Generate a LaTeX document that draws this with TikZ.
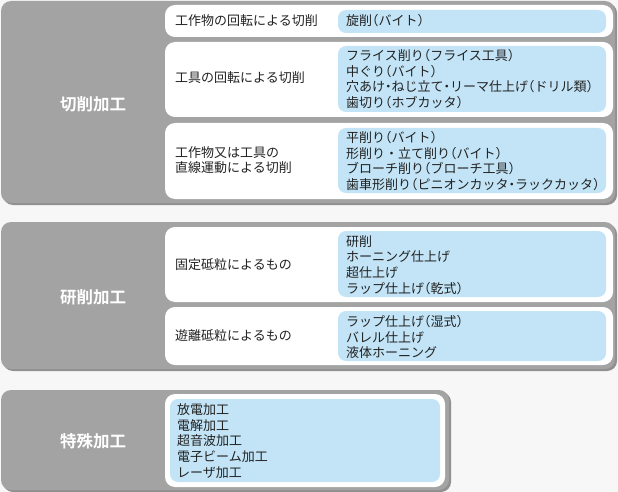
\documentclass[tikz,border=0pt]{standalone}
\usepackage{fontspec}
\setmainfont{Noto Sans CJK JP}[BoldFont={Noto Sans CJK JP Bold}]
\newfontfamily\halfpunct{Noto Sans CJK JP}[RawFeature=+halt]
\newcommand\kakkoL{{\halfpunct （}}
\newcommand\kakkoR{{\halfpunct ）}}
\newcommand\nakaten{{\halfpunct ・}}
\definecolor{bg}{HTML}{F7F7F7}
\definecolor{grp}{HTML}{A3A3A3}
\definecolor{grpdark}{HTML}{909090}
\definecolor{lb}{HTML}{C2E4F6}
\definecolor{txt}{HTML}{222222}
\begin{document}
\begin{tikzpicture}[x=1pt,y=-1pt,
  grpbox/.style={fill=grp, rounded corners=10pt},
  grpshadow/.style={fill=grpdark, rounded corners=10pt},
  whitebox/.style={fill=white, rounded corners=10pt},
  bluebox/.style={fill=lb, rounded corners=8pt},
  grplabel/.style={text=white, font=\bfseries\fontsize{16.5pt}{18pt}\selectfont, inner sep=0pt},
  cattext/.style={text=txt, font=\fontsize{13pt}{15.7pt}\selectfont, anchor=west, align=left, inner sep=0pt},
  itemtext/.style={text=txt, font=\fontsize{13pt}{15.7pt}\selectfont, anchor=west, align=left, inner sep=0pt}]
\useasboundingbox (0,0) rectangle (618,492);
\fill[bg] (0,0) rectangle (618,492);

% ---------- group 1 ----------
\path[grpshadow] (3,3) rectangle (617,205);
\path[grpbox] (1,1) rectangle (615,203);
\node[grplabel] (g1) at (93,104) {切削加工};

\path[whitebox] (165,5) rectangle (613,37);
\path[bluebox] (338,10) rectangle (606,33);
\node[cattext] (c1) at (175,21) {工作物の回転による切削};
\node[itemtext] (i1) at (346,21) {旋削\kakkoL バイト\kakkoR};

\path[whitebox] (165,42) rectangle (613,117);
\path[bluebox] (338,46) rectangle (606,112);
\node[cattext] (c2) at (175,78) {工具の回転による切削};
\node[itemtext] (i2) at (346,79) {フライス削り\kakkoL フライス工具\kakkoR\\中ぐり\kakkoL バイト\kakkoR\\穴あけ\nakaten ねじ立て\nakaten リーマ仕上げ\kakkoL ドリル類\kakkoR\\歯切り\kakkoL ホブカッタ\kakkoR};

\path[whitebox] (165,123) rectangle (613,199);
\path[bluebox] (338,128) rectangle (606,193);
\node[cattext] (c3) at (175,160) {工作物又は工具の\\直線運動による切削};
\node[itemtext] (i3) at (346,161) {平削り\kakkoL バイト\kakkoR\\形削り・立て削り\kakkoL バイト\kakkoR\\ブローチ削り\kakkoL ブローチ工具\kakkoR\\歯車形削り\kakkoL ピニオンカッタ\nakaten ラックカッタ\kakkoR};

% ---------- group 2 ----------
\path[grpshadow] (3,224) rectangle (617,371);
\path[grpbox] (1,222) rectangle (615,369);
\node[grplabel] (g2) at (93,297) {研削加工};

\path[whitebox] (165,227) rectangle (613,302);
\path[bluebox] (338,231) rectangle (606,297);
\node[cattext] (c4) at (175,265) {固定砥粒によるもの};
\node[itemtext] (i4) at (346,265) {研削\\ホーニング仕上げ\\超仕上げ\\ラップ仕上げ\kakkoL 乾式\kakkoR};

\path[whitebox] (165,307) rectangle (613,365);
\path[bluebox] (338,311) rectangle (606,361);
\node[cattext] (c5) at (175,336) {遊離砥粒によるもの};
\node[itemtext] (i5) at (346,337) {ラップ仕上げ\kakkoL 湿式\kakkoR\\バレル仕上げ\\液体ホーニング};

% ---------- group 3 ----------
\path[grpshadow] (3,392) rectangle (451,492);
\path[grpbox] (1,390) rectangle (449,490);
\node[grplabel] (g3) at (93,441) {特殊加工};

\path[whitebox] (165,394) rectangle (445,487);
\path[bluebox] (170,399) rectangle (440,482);
\node[itemtext] (i6) at (177,441) {放電加工\\電解加工\\超音波加工\\電子ビーム加工\\レーザ加工};
\end{tikzpicture}
\end{document}
